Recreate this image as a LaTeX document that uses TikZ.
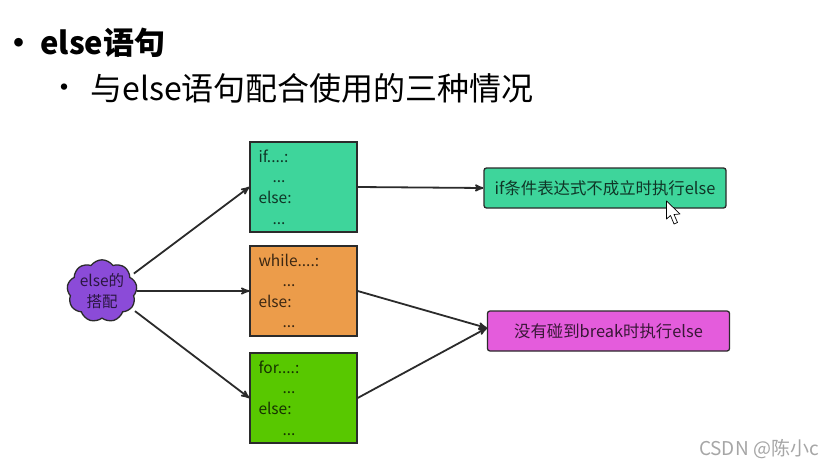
\documentclass[tikz,border=0pt]{standalone}
\usepackage{fontspec}
\setmainfont{Noto Sans CJK SC}
\usepackage{tikz}
\usetikzlibrary{arrows, positioning, shapes.symbols}

\definecolor{tealfill}{HTML}{3ED59B}
\definecolor{orangefill}{HTML}{EC9C4A}
\definecolor{limefill}{HTML}{58C800}
\definecolor{pinkfill}{HTML}{E45CDC}
\definecolor{cloudfill}{HTML}{8B4BD8}
\definecolor{linegray}{HTML}{2B2B2B}

\begin{document}
\begin{tikzpicture}[x=1pt, y=-1pt, ->, >=stealth', semithick, draw=linegray]
        \tikzstyle{codebox}=[rectangle,draw=linegray,line width=1.3pt,minimum width=107pt,minimum height=90pt,text width=90pt,inner sep=0pt,align=left,font=\fontsize{15.5}{20.6}\selectfont,text=black,text opacity=.75]
        \tikzstyle{resultbox}=[rectangle,rounded corners=2.5pt,draw=linegray,line width=1.3pt,minimum width=242pt,minimum height=40pt,inner sep=0pt,font=\fontsize{16.4}{18}\selectfont,text=black,text opacity=.75]
        \tikzstyle{headline}=[anchor=west,inner sep=0pt,text=black]
        \tikzstyle{link}=[line width=1.8pt]
        \useasboundingbox (0,0) rectangle (834,468);
        \fill[white] (0,0) rectangle (834,468);

        \node[headline,font=\fontsize{31}{36}\bfseries\selectfont] (dotone) at (3,46) {•};
        \node[headline,font=\fontsize{31}{36}\bfseries\selectfont] (title) at (40,43) {else语句};
        \node[headline,font=\fontsize{30}{34}\selectfont] (dottwo) at (49,91) {•};
        \node[headline,font=\fontsize{32}{36}\selectfont] (subtitle) at (90,88) {与else语句配合使用的三种情况};

        \node[cloud,cloud puffs=9,cloud puff arc=110,aspect=1.15,draw=linegray,line width=1.3pt,fill=cloudfill,minimum width=70pt,minimum height=59pt,inner sep=0pt,align=center,font=\fontsize{15.5}{21}\selectfont,text=black,text opacity=.7] (pairing) at (102,291) {else的\\搭配};

        \node[codebox,fill=orangefill] (whilebox) [right of=pairing, node distance=201.5pt] {while....:\\\hspace*{24pt}...\\else:\\\hspace*{24pt}...};
        \node[codebox,fill=tealfill]   (ifbox)    [above of=whilebox, node distance=104pt] {if....:\\\hspace*{14pt}...\\else:\\\hspace*{14pt}...};
        \node[codebox,fill=limefill]   (forbox)   [below of=whilebox, node distance=107pt] {for....:\\\hspace*{24pt}...\\else:\\\hspace*{24pt}...};

        \node[resultbox,fill=tealfill] (ifresult) [right of=ifbox, node distance=301.5pt, yshift=-1pt] {if条件表达式不成立时执行else};
        \node[resultbox,fill=pinkfill] (loopresult) [right of=whilebox, node distance=305pt, yshift=-40pt] {没有碰到break时执行else};

        \path
        ([xshift=4pt]pairing.32) edge[link] (ifbox.west)
        (pairing.east) edge[link] (whilebox.west)
        ([shift={(4,2)}]pairing.-32) edge[link] (forbox.west)
        (ifbox.east) edge[link] (ifresult.west)
        (whilebox.east) edge[link] ([yshift=3pt]loopresult.west)
        (forbox.east) edge[link] ([yshift=3pt]loopresult.west);

        % mouse pointer
        \filldraw[-,fill=white,draw=black,line width=.7pt,line join=round] (666.5,201) -- (666.5,219) -- (670.5,215.5) -- (674,224) -- (677.5,222.5) -- (674,214.5) -- (680,214) -- cycle;

        \node[anchor=east,inner sep=0pt,font=\fontsize{19}{20}\selectfont,text=gray!70] (watermark) at (819,449) {CSDN @陈小c};
      \end{tikzpicture}
\end{document}
